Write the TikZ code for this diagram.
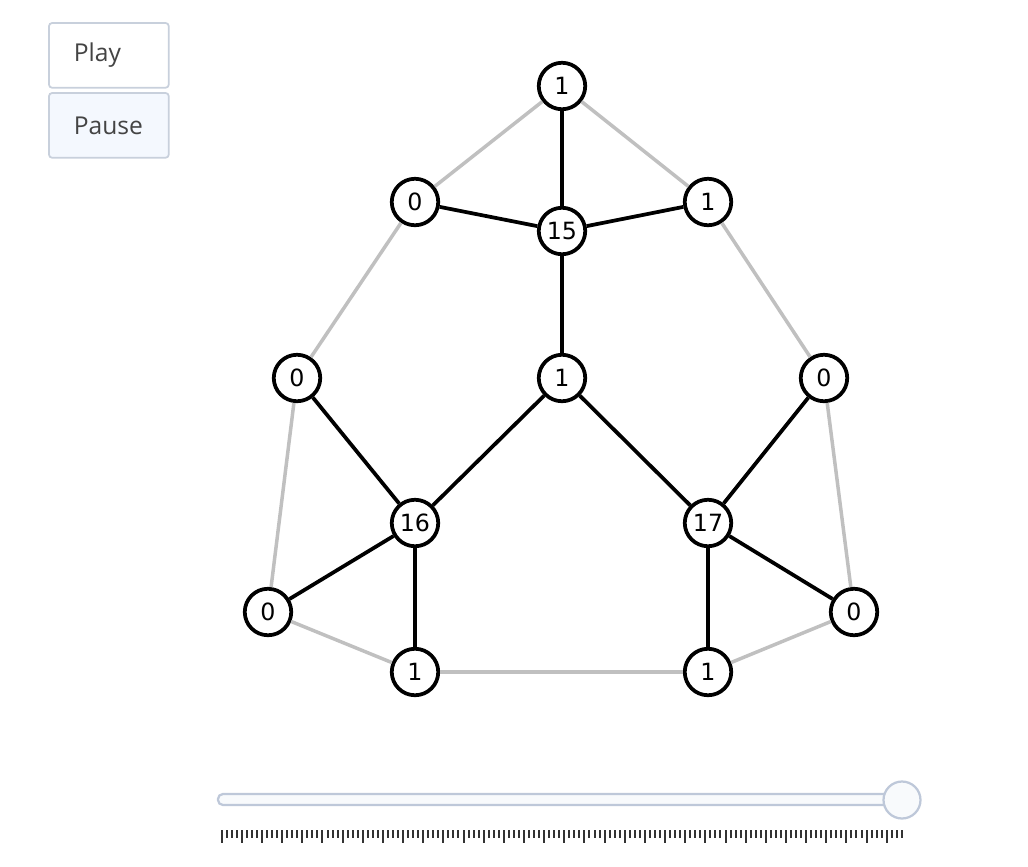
\documentclass[tikz,border=0pt]{standalone}
\usepackage{fontspec}
\newfontfamily\lblfont{DejaVu Sans}
\newfontfamily\btnfont{Open Sans}
\usetikzlibrary{positioning}
\definecolor{ringgray}{HTML}{C0C0C0}
\definecolor{btnline}{HTML}{C8D0DC}
\definecolor{btnfill}{HTML}{F4F8FE}
\definecolor{trackline}{HTML}{BEC8D9}
\definecolor{trackfill}{HTML}{F8FAFC}
\definecolor{tickgray}{HTML}{333333}
\definecolor{btntext}{HTML}{444444}

\begin{document}
\begin{tikzpicture}[x=0.02cm, y=-0.02cm,
    vert/.style={circle, draw, line width=0.075cm, fill=white, minimum
      size=0.93cm, inner sep=0pt, font=\lblfont\fontsize{13.5}{15}\selectfont},
    tree/.style={line width=0.075cm, black},
    ring/.style={line width=0.07cm, ringgray},
    btn/.style={draw=btnline, line width=0.035cm, rounded corners=2pt,
      anchor=north west, minimum height=1.3cm, text width=1.4cm,
      inner xsep=0.5cm, align=left, text=btntext,
      font=\btnfont\fontsize{14}{16}\selectfont}]
    \useasboundingbox (0,0) rectangle (1028,866);
    % buttons
    \node[btn, fill=white] (play) at (48,22) {Play};%
    \node[btn, fill=btnfill] (pause) at (48,92) {Pause};%
    % vertices
    \node[vert] (top) at (562,86) {1};%
    \node[vert] (ul) at (415,202) {0};%
    \node[vert] (hub) at (562,231) {15};%
    \node[vert] (ur) at (708,202) {1};%
    \node[vert] (ml) at (297,378) {0};%
    \node[vert] (mid) at (562,378) {1};%
    \node[vert] (mr) at (824,378) {0};%
    \node[vert] (lhub) at (415,523) {16};%
    \node[vert] (rhub) at (708,523) {17};%
    \node[vert] (ll) at (268,612) {0};%
    \node[vert] (rl) at (854,612) {0};%
    \node[vert] (bl) at (415,672) {1};%
    \node[vert] (br) at (708,672) {1};%
    % outer ring
    \path[ring] (top) edge (ul) edge (ur)
    (ul) edge (ml)
    (ur) edge (mr)
    (ml) edge (ll)
    (mr) edge (rl)
    (ll) edge (bl)
    (bl) edge (br)
    (br) edge (rl);
    % spanning tree
    \path[tree] (hub) edge (top) edge (ul) edge (ur) edge (mid)
    (mid) edge (lhub) edge (rhub)
    (lhub) edge (ml) edge (ll) edge (bl)
    (rhub) edge (mr) edge (rl) edge (br);
    % slider
    \draw[draw=trackline, fill=trackfill, line width=0.045cm, rounded
    corners=2.8pt] (218,794) rectangle (903,805);
    \node[circle, draw=trackline, fill=trackfill, line width=0.045cm,
    minimum size=0.74cm, inner sep=0pt] (knob) at (902,800) {};%
    \foreach \i in {0,...,135} {
      \pgfmathsetmacro{\tx}{221.7+\i*5.038}
      \pgfmathtruncatemacro{\big}{mod(\i,4)==0 ? 1 : 0}
      \ifnum\big=1
        \draw[tickgray, line width=0.04cm] (\tx,830) -- (\tx,843);
      \else
        \draw[tickgray, line width=0.04cm] (\tx,830) -- (\tx,838);
      \fi
    }
  \end{tikzpicture}
\end{document}
